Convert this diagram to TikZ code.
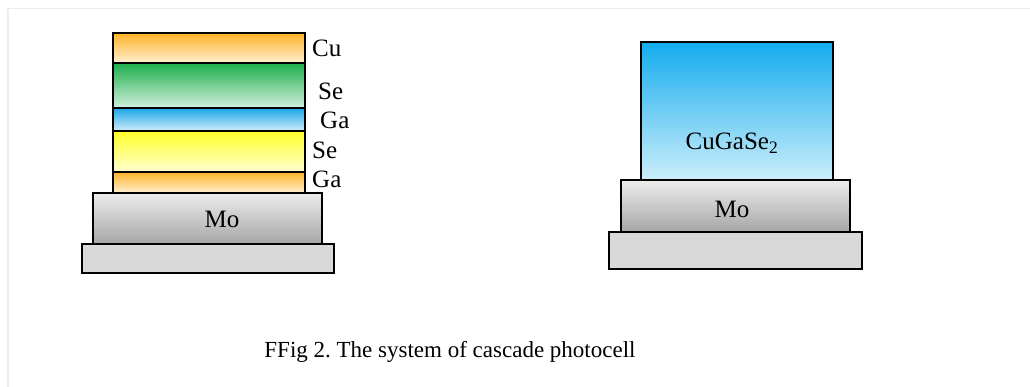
\documentclass[tikz,border=0pt]{standalone}
\usepackage{fontspec}
\setmainfont{Liberation Serif}
\frenchspacing
\begin{document}
\begin{tikzpicture}[x=1pt,y=-1pt,
  layer/.style={draw=black,line width=1.3pt},
  lbl/.style={font=\fontsize{25}{28}\selectfont,inner sep=0pt,anchor=west},
  captext/.style={font=\fontsize{23}{26}\selectfont,inner sep=0pt}]
\useasboundingbox (0,0) rectangle (1030,387);
\fill[white] (0,0) rectangle (1030,387);
\draw[color=black!7,line width=1.2pt] (8,387) -- (8,8.5) -- (1030,8.5);
% left stack
\draw[layer,fill=black!15] (82,244) rectangle (334,273);
\shade[top color=black!7,bottom color=black!35] (93,193) rectangle (322,244);
\draw[layer] (93,193) rectangle (322,244);
\shade[top color={rgb,255:red,255;green,178;blue,40},bottom color={rgb,255:red,255;green,240;blue,210}] (113,172) rectangle (305,193);
\draw[layer] (113,172) rectangle (305,193);
\shade[top color={rgb,255:red,255;green,255;blue,40},bottom color={rgb,255:red,255;green,255;blue,210}] (113,131) rectangle (305,172);
\draw[layer] (113,131) rectangle (305,172);
\shade[top color={rgb,255:red,26;green,166;blue,232},bottom color={rgb,255:red,210;green,238;blue,250}] (113,108) rectangle (305,131);
\draw[layer] (113,108) rectangle (305,131);
\shade[top color={rgb,255:red,30;green,174;blue,76},bottom color={rgb,255:red,210;green,240;blue,222}] (113,63) rectangle (305,108);
\draw[layer] (113,63) rectangle (305,108);
\shade[top color={rgb,255:red,255;green,178;blue,40},bottom color={rgb,255:red,255;green,240;blue,210}] (113,33) rectangle (305,63);
\draw[layer] (113,33) rectangle (305,63);
\node[lbl] (lcu) at (312,48) {Cu};
\node[lbl] (lse1) at (318,91) {Se};
\node[lbl] (lga1) at (320,120) {Ga};
\node[lbl] (lse2) at (312,150) {Se};
\node[lbl] (lga2) at (312,179) {Ga};
\node[lbl,anchor=center] (lmo) at (222,219) {Mo};
% right stack
\draw[layer,fill=black!15] (609,232) rectangle (862,269);
\shade[top color=black!7,bottom color=black!35] (621,180) rectangle (850,232);
\draw[layer] (621,180) rectangle (850,232);
\shade[top color={rgb,255:red,20;green,172;blue,238},bottom color={rgb,255:red,204;green,238;blue,250}] (641,42) rectangle (833,180);
\draw[layer] (641,42) rectangle (833,180);
\node[lbl,anchor=center] (rcgs) at (732,143) {CuGaSe\textsubscript{2}};
\node[lbl,anchor=center] (rmo) at (732,209) {Mo};
% caption
\node[captext] (caption) at (450,352) {FFig 2. The system of cascade photocell};
\end{tikzpicture}
\end{document}
